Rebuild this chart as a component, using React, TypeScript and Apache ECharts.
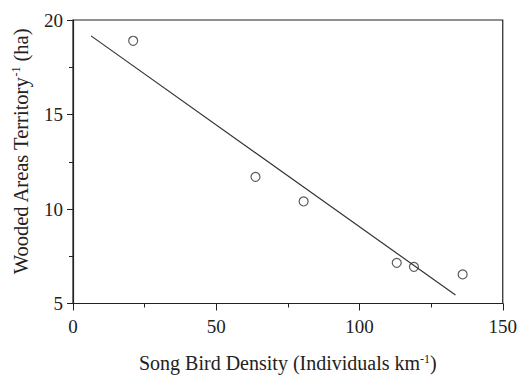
import React, { useEffect, useRef } from "react";
import * as echarts from "echarts";

const densityX = [21, 63.7, 80.5, 113, 119, 136];
const territoryY = [18.9, 11.7, 10.4, 7.15, 6.94, 6.54];
const fitX = [6.3, 133.5];
const fitY = [19.16, 5.45];
const xTicks = [0, 50, 100, 150];
const yTicks = [5, 10, 15, 20];

const FONT = "'Liberation Serif', 'DejaVu Serif', serif";
const INK = "#222";

export default function App() {
  const ref = useRef<HTMLDivElement>(null);
  useEffect(() => {
    if (!ref.current) return;
    const chart = echarts.init(ref.current, undefined, { renderer: "svg" });
    const points = densityX.map((x, i) => [x, territoryY[i]]);
    const fit = fitX.map((x, i) => [x, fitY[i]]);
    const richX = {
      n: { fontFamily: FONT, fontSize: 20, color: INK },
      s: { fontFamily: FONT, fontSize: 12, color: INK, verticalAlign: "top", padding: [0, 0, 9, 0] },
    };
    const richY = {
      n: { fontFamily: FONT, fontSize: 20.5, color: INK },
      s: { fontFamily: FONT, fontSize: 12, color: INK, verticalAlign: "top", padding: [0, 0, 10, 0] },
    };
    chart.setOption({
      animation: false,
      backgroundColor: "#fff",
      grid: {
        left: 73,
        top: 20,
        right: 16,
        bottom: 72,
        show: true,
        borderColor: INK,
        borderWidth: 1.2,
        backgroundColor: "transparent",
      },
      xAxis: {
        type: "value",
        min: xTicks[0],
        max: xTicks[xTicks.length - 1],
        interval: 50,
        name: "{n|Song Bird Density (Individuals km}{s|-1}{n|)}",
        nameLocation: "middle",
        nameGap: 49,
        nameTextStyle: { rich: richX },
        axisLine: { show: true, lineStyle: { color: INK, width: 1.2 } },
        axisTick: { show: true, length: 7, lineStyle: { color: INK } },
        minorTick: { show: true, splitNumber: 2, length: 4, lineStyle: { color: INK } },
        splitLine: { show: false },
        axisLabel: { fontFamily: FONT, fontSize: 19, color: INK, margin: 13 },
      },
      yAxis: {
        type: "value",
        min: yTicks[0],
        max: yTicks[yTicks.length - 1],
        interval: 5,
        name: "{n|Wooded Areas Territory}{s|-1}{n| (ha)}",
        nameLocation: "middle",
        nameGap: 41,
        nameRotate: 90,
        nameTextStyle: { rich: richY, padding: [0, 0, 0, 20] },
        axisLine: { show: true, lineStyle: { color: INK, width: 1.2 } },
        axisTick: { show: true, length: 6, lineStyle: { color: INK } },
        minorTick: { show: true, splitNumber: 2, length: 4, lineStyle: { color: INK } },
        splitLine: { show: false },
        axisLabel: { fontFamily: FONT, fontSize: 19, color: INK, margin: 10 },
      },
      series: [
        {
          type: "line",
          data: fit,
          symbol: "none",
          lineStyle: { color: "#333", width: 1.2 },
          silent: true,
        },
        {
          type: "scatter",
          data: points,
          symbol: "circle",
          symbolSize: 9,
          itemStyle: { color: "#fff", borderColor: "#333", borderWidth: 1.2 },
        },
      ],
    });
    return () => chart.dispose();
  }, []);
  return (
    <div
      ref={ref}
      style={{ position: "absolute", left: 0, top: 0, width: 520, height: 378 }}
    />
  );
}
